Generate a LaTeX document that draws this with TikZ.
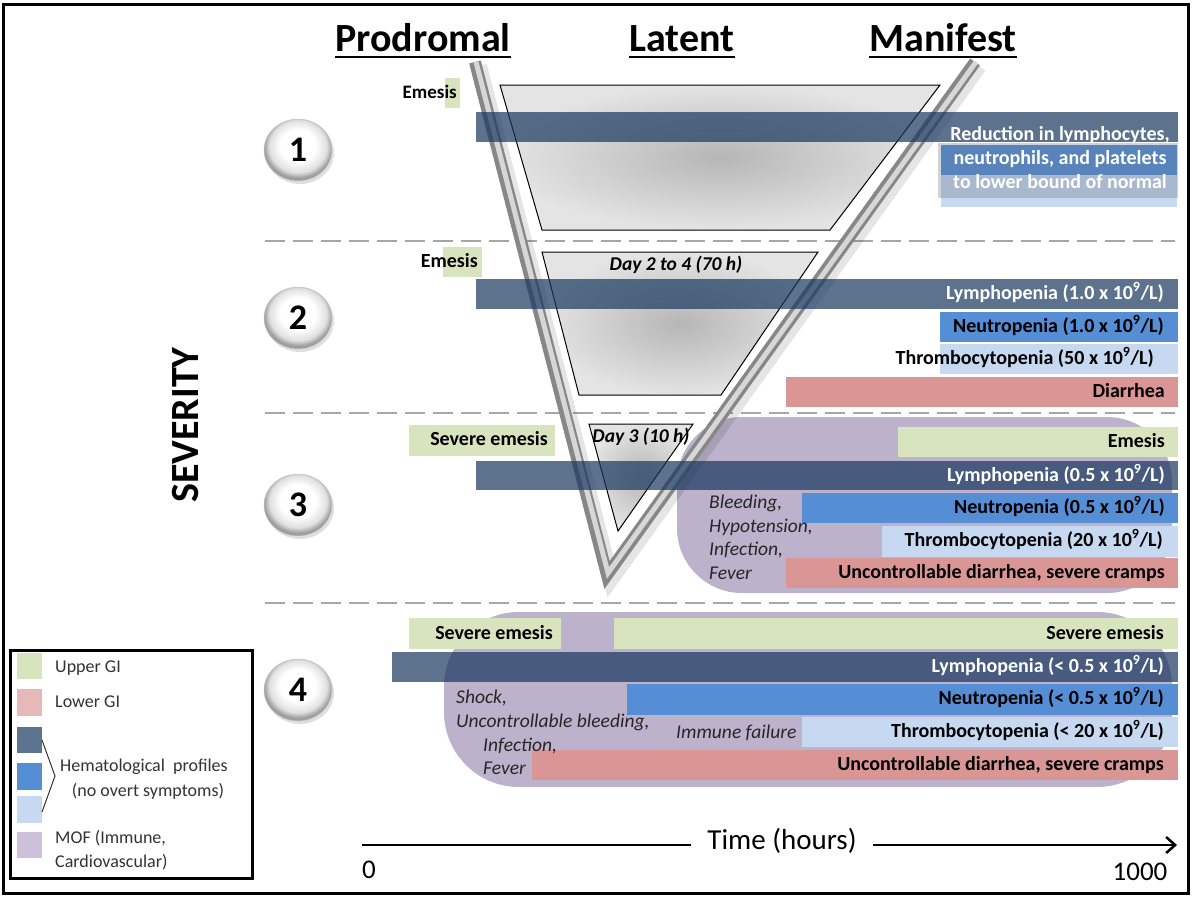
\documentclass[tikz,border=0pt]{standalone}
\usepackage{fontspec}
\setmainfont{Carlito}
\usetikzlibrary{arrows.meta,shadows,shapes.geometric}
\definecolor{gr}{RGB}{215,228,189}
\definecolor{rd}{RGB}{217,150,148}
\definecolor{rdl}{RGB}{230,185,184}
\definecolor{db}{RGB}{23,55,94}
\definecolor{dbl}{RGB}{92,115,144}
\definecolor{mb}{RGB}{85,142,213}
\definecolor{lb}{RGB}{198,217,241}
\definecolor{pu}{RGB}{188,178,204}
\definecolor{pul}{RGB}{204,192,218}
\definecolor{sepc}{RGB}{166,166,166}
\definecolor{trin}{RGB}{182,182,182}
\definecolor{trout}{RGB}{228,228,228}
\definecolor{vgray}{RGB}{135,135,135}
\definecolor{vlight}{RGB}{215,215,215}
\definecolor{ovl}{RGB}{100,110,130}
\pgfdeclareradialshading{btnshade}{\pgfpoint{0bp}{5bp}}{color(0bp)=(white); color(13bp)=(white); color(21bp)=(black!12); color(25bp)=(black!38); color(50bp)=(black!38)}
\tikzset{
  lab/.style={font=\fontsize{20}{24}\selectfont\bfseries, inner sep=0pt, text height=14pt, text depth=3pt, anchor=east},
  wlab/.style={lab, text=white},
  itl/.style={font=\fontsize{19.5}{23}\selectfont\itshape, inner sep=0pt, text height=14pt, text depth=3pt, anchor=west, text=black!85},
  daylab/.style={font=\fontsize{19.5}{23}\selectfont\bfseries\itshape, inner sep=0pt, text height=14pt, text depth=3pt},
  sepline/.style={sepc, line width=2.5pt, dash pattern=on 20pt off 8pt},
  trap/.style={draw=black, line width=1pt, inner color=trin, outer color=trout},
  mof/.style={fill=pu, rounded corners=65pt},
  lymph/.style={fill=db, fill opacity=0.7},
  btn/.style={ellipse, minimum width=68pt, minimum height=62pt, draw=gray!40, line width=0.5pt,
     shading=btnshade, font=\fontsize{36}{40}\selectfont\bfseries,
     drop shadow={shadow xshift=2pt, shadow yshift=-3pt, opacity=0.25}},
  hdr/.style={font=\fontsize{40}{48}\selectfont\bfseries, inner sep=0pt, anchor=base},
  legtxt/.style={font=\fontsize{18}{22}\selectfont, anchor=west, inner sep=0pt, text height=13pt, text depth=3pt, text=black!80},
}
\begin{document}
\begin{tikzpicture}[x=1pt,y=-1pt]
\useasboundingbox (0,0) rectangle (1193,898);
\fill[white] (0,0) rectangle (1193,898);

% separators
\draw[sepline] (265,241) -- (1175,241);
\draw[sepline] (265,413) -- (1175,413);
\draw[sepline] (265,603) -- (1175,603);

% MOF regions
\fill[mof] (677,417) rectangle (1172,593);
\fill[mof, rounded corners=75pt] (444,612) rectangle (1172,787);

% trapezoids
\path[trap] (500,85) -- (940,85) -- (830,230) -- (542,230) -- cycle;
\path[trap] (542,252) -- (818,252) -- (721,395) -- (579,395) -- cycle;
\path[trap] (589,424) -- (693,424) -- (618,531) -- cycle;

% V
\draw[line width=16pt, black, opacity=0.10, line join=miter] (479,66) -- (611,579) -- (979,66);
\draw[line width=12pt, vgray, line join=miter] (475,62) -- (607,575) -- (975,62);
\draw[line width=5pt, vlight, line join=miter] (476,62) -- (608,573) -- (976,62);

% ---------- severity 1
\fill[gr] (445,78) rectangle (460,108);
\fill[lymph] (476,112) rectangle (1178,142);
\fill[mb] (941,145) rectangle (1177,175);
\fill[lb] (941,175) rectangle (1177,207);
\fill[ovl, opacity=0.3] (938,143) rectangle (1178,198);
\node[lab, font=\fontsize{19}{23}\selectfont\bfseries] (e1) at (457,93) {Emesis};
\node[text=white, font=\fontsize{20}{24}\selectfont\bfseries, align=center, inner sep=0pt] (r1) at (1060,158)
  {Reduction in lymphocytes,\\neutrophils, and platelets\\to lower bound of normal};

% ---------- severity 2
\fill[gr] (443,247) rectangle (482,277);
\fill[lymph] (476,279) rectangle (1178,309);
\fill[mb] (940,312) rectangle (1178,342);
\fill[lb] (940,344) rectangle (1178,374);
\fill[rd] (786,377) rectangle (1178,407);
\node[lab] (e2) at (478,262) {Emesis};
\node[wlab] (l2) at (1164,294) {Lymphopenia (1.0 x 10\textsuperscript{9}/L)};
\node[lab] (n2) at (1164,327) {Neutropenia (1.0 x 10\textsuperscript{9}/L)};
\node[lab] (t2) at (1154,359) {Thrombocytopenia (50 x 10\textsuperscript{9}/L)};
\node[lab] (d2) at (1165,392) {Diarrhea};
\node[daylab] (day2) at (676,265) {Day 2 to 4 (70 h)};

% ---------- severity 3
\fill[gr] (409,425) rectangle (555,456);
\fill[gr] (898,427) rectangle (1178,457);
\fill[lymph] (476,461) rectangle (1178,490);
\fill[mb] (802,493) rectangle (1178,523);
\fill[lb] (882,526) rectangle (1178,557);
\fill[rd] (786,558) rectangle (1178,588);
\node[lab] (se3) at (548,440) {Severe emesis};
\node[lab] (e3) at (1165,442) {Emesis};
\node[wlab] (l3) at (1165,476) {Lymphopenia (0.5 x 10\textsuperscript{9}/L)};
\node[lab] (n3) at (1165,508) {Neutropenia (0.5 x 10\textsuperscript{9}/L)};
\node[lab] (t3) at (1163,541) {Thrombocytopenia (20 x 10\textsuperscript{9}/L)};
\node[lab] (d3) at (1165,573) {Uncontrollable diarrhea, severe cramps};
\node[daylab] (day3) at (641,437) {Day 3 (10 h)};
\node[itl] (i31) at (709,503) {Bleeding,};
\node[itl] (i32) at (709,527) {Hypotension,};
\node[itl] (i33) at (709,550) {Infection,};
\node[itl] (i34) at (709,574) {Fever};

% ---------- severity 4
\fill[gr] (409,618) rectangle (561,649);
\fill[gr] (614,618) rectangle (1178,649);
\fill[lymph] (392,652) rectangle (1178,682);
\fill[mb] (627,684) rectangle (1178,715);
\fill[lb] (802,717) rectangle (1178,747);
\fill[rd] (532,750) rectangle (1178,780);
\node[lab] (se4a) at (553,634) {Severe emesis};
\node[lab] (se4b) at (1164,634) {Severe emesis};
\node[wlab] (l4) at (1164,667) {Lymphopenia (< 0.5 x 10\textsuperscript{9}/L)};
\node[lab] (n4) at (1164,699) {Neutropenia (< 0.5 x 10\textsuperscript{9}/L)};
\node[lab] (t4) at (1164,732) {Thrombocytopenia (< 20 x 10\textsuperscript{9}/L)};
\node[lab] (d4) at (1164,765) {Uncontrollable diarrhea, severe cramps};
\node[itl] (i41) at (456,698) {Shock,};
\node[itl] (i42) at (456,722) {Uncontrollable bleeding,};
\node[itl] (i43) at (483,746) {Infection,};
\node[itl] (i44) at (483,769) {Fever};
\node[itl] (imf) at (676,733) {Immune failure};

% headers
\node[hdr] (hp) at (423,51) {Prodromal};
\node[hdr] (hl) at (682,51) {Latent};
\node[hdr] (hm) at (943,51) {Manifest};
\foreach \h in {hp,hl,hm}
  \draw[line width=2pt] ([yshift=-6pt]\h.base west) -- ([yshift=-6pt]\h.base east);

% severity
\node[rotate=90, font=\fontsize{40}{48}\selectfont\bfseries] (sv) at (186,425) {SEVERITY};
\node[btn] (s1) at (298,150) {1};
\node[btn] (s2) at (298,318) {2};
\node[btn] (s3) at (298,505) {3};
\node[btn] (s4) at (298,690) {4};

% legend
\draw[line width=3pt] (10,650) rectangle (252,878);
\fill[gr] (17,653) rectangle (42,679);
\fill[rdl] (17,689) rectangle (42,716);
\fill[dbl] (17,727) rectangle (42,753);
\fill[mb] (17,763) rectangle (42,790);
\fill[lb] (17,796) rectangle (42,823);
\fill[pul] (17,832) rectangle (42,858);
\node[legtxt] (lg1) at (55,667) {Upper GI};
\node[legtxt] (lg2) at (55,702) {Lower GI};
\node[legtxt] (lg3) at (60,766) {Hematological\ \ profiles};
\node[legtxt, anchor=center] (lg4) at (148,791) {(no overt symptoms)};
\node[legtxt] (lg5) at (55,838) {MOF (Immune,};
\node[legtxt] (lg6) at (55,862) {Cardiovascular)};
\coordinate (b1) at (42,740);
\coordinate (b2) at (55,776);
\coordinate (b3) at (42,812);
\draw[line width=1pt, black!80] (b1) -- (b2) -- (b3);

% time axis
\coordinate (a0) at (362,845);
\coordinate (a1) at (1177,845);
\node[font=\fontsize{29}{34}\selectfont, inner xsep=16pt, inner ysep=0pt] (tl) at (782,841) {Time (hours)};
\draw[line width=2.5pt] (a0) -- (a0 -| tl.west);
\draw[line width=2.5pt, -{Straight Barb[length=9pt,width=16pt,line width=2.5pt]}] (a0 -| tl.east) -- (a1);
\node[font=\fontsize{27}{32}\selectfont, inner sep=0pt] (t0) at (369,870) {0};
\node[font=\fontsize{27}{32}\selectfont, inner sep=0pt] (t1) at (1140,872) {1000};

% frame
\draw[line width=3pt] (3,4) rectangle (1188,893);
\end{tikzpicture}
\end{document}
